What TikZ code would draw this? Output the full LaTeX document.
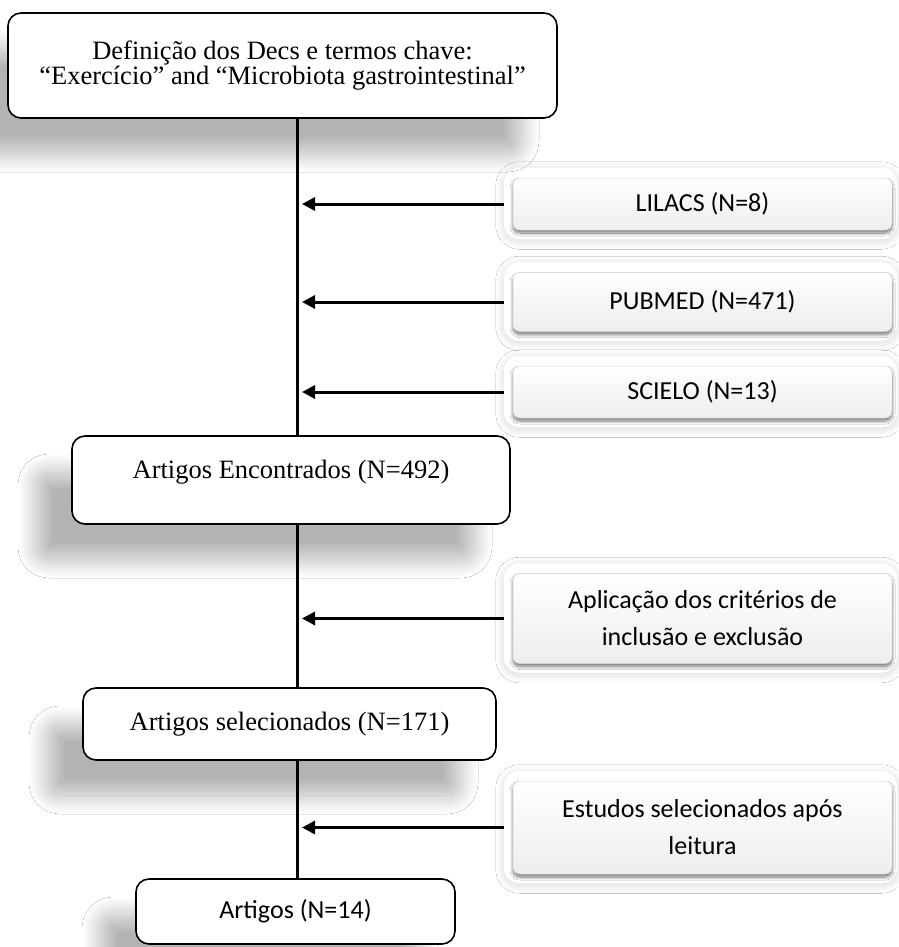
\documentclass[tikz,border=0pt]{standalone}
\usepackage{fontspec}
\setmainfont{Liberation Serif}
\newfontfamily\calibrifont{Carlito}
\usepackage{tikz}
\usetikzlibrary{arrows.meta, positioning, shadows.blur, backgrounds}

\begin{document}
\begin{tikzpicture}[
    x=1pt, y=-1pt,
    stepbox/.style={rectangle, draw, line width=1.6pt, rounded corners=13pt, fill=white,
                align=center, font=\fontsize{26.5}{24.5}\selectfont,
                blur shadow={shadow xshift=-36pt, shadow yshift=-36pt,
                             shadow blur radius=18pt, shadow blur steps=30,
                             shadow opacity=30}},
    basebox/.style={rectangle, rounded corners=7pt, align=center, minimum width=379pt,
                font=\calibrifont\fontsize{26}{37}\selectfont,
                top color=white, bottom color=gray!14, draw=gray!30, line width=0.5pt,
                blur shadow={shadow xshift=0pt, shadow yshift=-3pt,
                             shadow blur radius=3pt, shadow blur steps=20,
                             shadow opacity=55}},
    outerframe/.style={fill=white, rounded corners=16pt,
                blur shadow={shadow xshift=0pt, shadow yshift=-2pt,
                             shadow blur radius=8pt, shadow blur steps=30,
                             shadow opacity=16}},
    arrow/.style={-{Triangle[length=13pt, width=13pt]}, line width=3pt,
                shorten >=5pt, shorten <=9pt},
    spineline/.style={line width=3pt}
]
\useasboundingbox (0,0) rectangle (898,947);
\coordinate (spine) at (297,0);

% Main steps
\node[stepbox, minimum width=549pt, minimum height=105pt] (defin) at (282.5,65.5)
    {Definição dos Decs e termos chave:\\“Exercício” and “Microbiota gastrointestinal”};
\node[stepbox, minimum width=438pt, minimum height=88pt, text depth=22pt] (encontrados) at (291,480)
    {Artigos Encontrados (N=492)};
\node[stepbox, minimum width=413pt, minimum height=72pt] (selecionados) at (289.5,724)
    {Artigos selecionados (N=171)};
\node[stepbox, minimum width=319pt, minimum height=65pt,
      font=\calibrifont\fontsize{26}{30}\selectfont] (artigos) at (295.5,911.5)
    {Artigos (N=14)};

% Databases and filters
\node[basebox, minimum height=52pt] (lilacs) at (702.5,204) {LILACS (N=8)};
\node[basebox, minimum height=59pt, below=42pt of lilacs] (pubmed) {PUBMED (N=471)};
\node[basebox, minimum height=52pt, below=34pt of pubmed] (scielo) {SCIELO (N=13)};
\node[basebox, minimum height=90pt, below=155pt of scielo] (aplicacao)
    {Aplicação dos critérios de\\inclusão e exclusão};
\node[basebox, minimum height=93pt, below=117pt of aplicacao] (estudos)
    {Estudos selecionados após\\leitura};

\begin{scope}[on background layer]
\fill[white] (0,0) rectangle (898,947);
\foreach \db in {lilacs, pubmed, scielo, aplicacao, estudos}
    \fill[outerframe] ([shift={(-9pt,10pt)}]\db.north west) rectangle ([shift={(5pt,-9pt)}]\db.south east);
\end{scope}

\draw[spineline] (defin.south -| spine) -- (encontrados.north -| spine);
\draw[spineline] (encontrados.south -| spine) -- (selecionados.north -| spine);
\draw[spineline] (selecionados.south -| spine) -- (artigos.north -| spine);

\foreach \db in {lilacs, pubmed, scielo, aplicacao, estudos}
    \draw[arrow] (\db.west) -- (\db.west -| spine);

\end{tikzpicture}
\end{document}
